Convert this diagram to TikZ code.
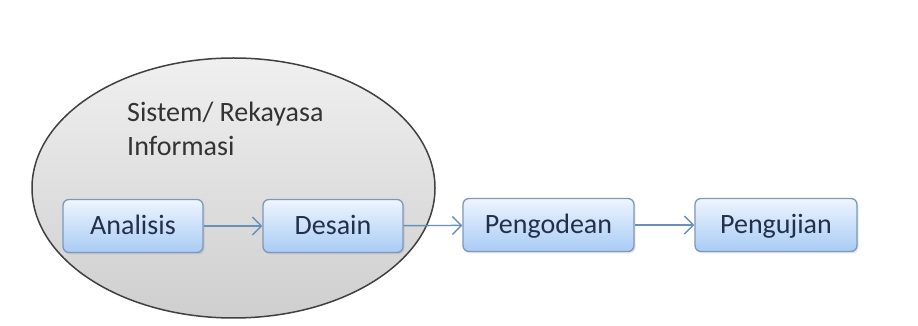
\documentclass[tikz,border=0pt]{standalone}
\usepackage{fontspec}
\setmainfont{Carlito}
\usetikzlibrary{arrows.meta,
	shapes.geometric,
	shadows}
\definecolor{boxtop}{HTML}{EEF5FE}
\definecolor{boxbot}{HTML}{A9CBF5}
\definecolor{boxline}{HTML}{8097B8}
\definecolor{arrowline}{HTML}{6A8FB8}
\definecolor{boxtext}{HTML}{23304A}

\begin{document}
\begin{tikzpicture}[x=1pt,y=1pt]
        \tikzstyle{phase}=[rectangle,rounded corners=6pt,draw=boxline,line width=1.3pt,
          top color=boxtop,bottom color=boxbot,minimum height=53pt,text=boxtext,
          text height=21pt,text depth=3pt,
          font=\fontsize{28}{30}\selectfont,
          drop shadow={opacity=0.2,shadow xshift=1.5pt,shadow yshift=-2pt}]
        \tikzstyle{flow}=[draw=arrowline,line width=1.4pt,-{Straight Barb[length=9pt,width=18pt,line width=1.4pt]}]
        \useasboundingbox (0,0) rectangle (918,326);
        \node[ellipse,draw=black!75,line width=1.5pt,top color=gray!12,bottom color=gray!38,
          minimum width=403pt,minimum height=260pt,inner sep=0pt] (sistem) at (233.5,138) {};
        \node[anchor=base west,align=left,text=black!80,inner sep=0pt,
          font=\fontsize{28}{34}\selectfont] (sistemlabel) at (127,170) {Sistem/ Rekayasa\\Informasi};
        \node[phase,minimum width=140pt] (analisis) at (133,100) {Analisis};
        \node[phase,minimum width=140pt] (desain) at (333,100) {Desain};
        \node[phase,minimum width=171pt] (pengodean) at (548.5,101) {Pengodean};
        \node[phase,minimum width=162pt] (pengujian) at (776,101) {Pengujian};
        \draw[flow] (analisis) -- (desain);
        \draw[flow] (desain) -- (pengodean);
        \draw[flow] (pengodean) -- (pengujian);
      \end{tikzpicture}
\end{document}
